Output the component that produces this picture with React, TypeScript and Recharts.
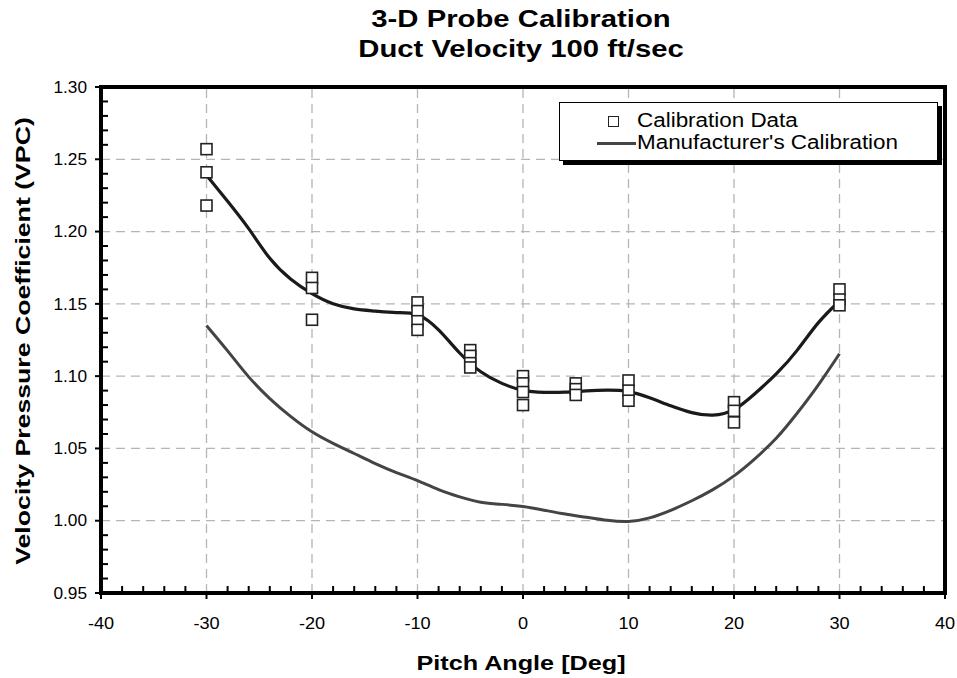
import React from "react";
import {
  ComposedChart,
  Line,
  Scatter,
  XAxis,
  YAxis,
  ReferenceLine,
} from "recharts";

// ---- data ----
const calX = [-30, -30, -30, -20, -20, -20, -10, -10, -10, -10, -5, -5, -5, -5, 0, 0, 0, 0, 5, 5, 5, 10, 10, 10, 20, 20, 20, 30, 30, 30];
const calY = [1.257, 1.241, 1.218, 1.168, 1.161, 1.139, 1.151, 1.145, 1.138, 1.132, 1.118, 1.114, 1.109, 1.106, 1.1, 1.095, 1.089, 1.08, 1.095, 1.091, 1.087, 1.097, 1.09, 1.083, 1.082, 1.076, 1.068, 1.16, 1.153, 1.149];

const curveX = [-30, -28, -26, -24, -22, -20, -18, -16, -14, -12, -10, -8, -6, -4, -2, 0, 2, 4, 6, 8, 10, 12, 14, 16, 18, 20, 22, 24, 26, 28, 30];
const fitY = [1.239, 1.221, 1.202, 1.1815, 1.167, 1.157, 1.15, 1.1465, 1.145, 1.144, 1.1425, 1.132, 1.116, 1.103, 1.095, 1.0902, 1.0888, 1.0889, 1.0898, 1.0903, 1.0893, 1.085, 1.0795, 1.0748, 1.073, 1.0768, 1.088, 1.1015, 1.118, 1.137, 1.152];
const mfrY = [1.135, 1.1175, 1.0995, 1.0845, 1.072, 1.0615, 1.0535, 1.0465, 1.0395, 1.0333, 1.0277, 1.0215, 1.0165, 1.0128, 1.0113, 1.0098, 1.0073, 1.0046, 1.0024, 1.0003, 0.9995, 1.002, 1.0072, 1.0138, 1.0215, 1.031, 1.043, 1.057, 1.0745, 1.094, 1.1155];

const xMajorTicks = [-40, -30, -20, -10, 0, 10, 20, 30, 40];
const xMinorTicks = [-38, -36, -34, -32, -28, -26, -24, -22, -18, -16, -14, -12, -8, -6, -4, -2, 2, 4, 6, 8, 12, 14, 16, 18, 22, 24, 26, 28, 32, 34, 36, 38];
const yMajorTicks = [0.95, 1.0, 1.05, 1.1, 1.15, 1.2, 1.25, 1.3];
const yMinorTicks = [
  0.96, 0.97, 0.98, 0.99, 1.01, 1.02, 1.03, 1.04, 1.06, 1.07, 1.08, 1.09, 1.11, 1.12, 1.13, 1.14,
  1.16, 1.17, 1.18, 1.19, 1.21, 1.22, 1.23, 1.24, 1.26, 1.27, 1.28, 1.29,
];
const xDomain = [-40, 40];
const yDomain = [0.95, 1.3];

const titleLines = ["3-D Probe Calibration", "Duct Velocity 100 ft/sec"];
const xLabel = "Pitch Angle [Deg]";
const yLabel = "Velocity Pressure Coefficient (VPC)";
const legendNames = ["Calibration Data", "Manufacturer's Calibration"];

const calData = calX.map((x, i) => ({ x, y: calY[i] }));
const fitData = curveX.map((x, i) => ({ x, y: fitY[i] }));
const mfrData = curveX.map((x, i) => ({ x, y: mfrY[i] }));
const xAllTicks = [...xMajorTicks, ...xMinorTicks].sort((a, b) => a - b);
const yAllTicks = [...yMajorTicks, ...yMinorTicks].sort((a, b) => a - b);
const xInnerGrid = xMajorTicks.filter((v) => v !== xDomain[0] && v !== xDomain[1]);
const yInnerGrid = yMajorTicks.filter((v) => v !== yDomain[0] && v !== yDomain[1]);

const FONT = "'Liberation Sans', Arial, Helvetica, sans-serif";
const GRID = "#b5b5b5";
const W = 957;
const H = 678;
const M = { top: 87, right: 12, bottom: 45, left: 0 };
const X_AXIS_H = 40;
const Y_AXIS_W = 101;

const isXMajor = (v: number) => xMajorTicks.includes(v);
const isYMajor = (v: number) => yMajorTicks.some((m) => Math.abs(m - v) < 1e-9);

const XTick = (props: any) => {
  const { x, y, payload } = props;
  const v = Number(payload.value);
  if (!isXMajor(v)) {
    return <line x1={x} x2={x} y1={y} y2={y - 7} stroke="#000" strokeWidth={2} />;
  }
  return (
    <g>
      <line x1={x} x2={x} y1={y} y2={y + 6} stroke="#000" strokeWidth={2} />
      <text
        transform={`translate(${x},${y + 24}) scale(1.1,1)`}
        x={0}
        y={0}
        dy="0.71em"
        textAnchor="middle"
        fontFamily={FONT}
        fontSize={16.5}
        fill="#000"
      >
        {v}
      </text>
    </g>
  );
};

const YTick = (props: any) => {
  const { x, y, payload } = props;
  const v = Number(payload.value);
  if (!isYMajor(v)) {
    return <line x1={x} x2={x + 7} y1={y} y2={y} stroke="#000" strokeWidth={2} />;
  }
  return (
    <g>
      <line x1={x - 6} x2={x} y1={y} y2={y} stroke="#000" strokeWidth={2} />
      <text
        transform={`translate(${x - 14},${y}) scale(1.08,1)`}
        x={0}
        y={0}
        dy="0.36em"
        textAnchor="end"
        fontFamily={FONT}
        fontSize={16}
        fill="#000"
      >
        {v.toFixed(2)}
      </text>
    </g>
  );
};

const SquareShape = (props: any) => {
  const { cx, cy } = props;
  if (cx == null || cy == null) return null;
  const s = 11;
  return (
    <rect
      x={cx - s / 2}
      y={cy - s / 2}
      width={s}
      height={s}
      fill="#fff"
      stroke="#222"
      strokeWidth={1.6}
    />
  );
};

export default function App() {
  const plotLeft = M.left + Y_AXIS_W;
  const plotTop = M.top;
  const plotW = W - M.right - plotLeft;
  const plotH = H - M.bottom - X_AXIS_H - plotTop;
  return (
    <div
      style={{
        position: "relative",
        width: W,
        height: H,
        background: "#fff",
        fontFamily: FONT,
      }}
    >
      <style>{`body{margin:0;}`}</style>
      <ComposedChart width={W} height={H} margin={M}>
        {xInnerGrid.map((v) => (
          <ReferenceLine
            key={`gx${v}`}
            x={v}
            stroke={GRID}
            strokeWidth={1.3}
            strokeDasharray="9 6"
          />
        ))}
        {yInnerGrid.map((v) => (
          <ReferenceLine
            key={`gy${v}`}
            y={v}
            stroke={GRID}
            strokeWidth={1.3}
            strokeDasharray="9 6"
          />
        ))}
        <XAxis
          dataKey="x"
          type="number"
          domain={xDomain}
          ticks={xAllTicks}
          interval={0}
          height={X_AXIS_H}
          tickSize={0}
          tickMargin={0}
          axisLine={false}
          tickLine={false}
          tick={<XTick />}
        />
        <YAxis
          dataKey="y"
          type="number"
          domain={yDomain}
          ticks={yAllTicks}
          interval={0}
          width={Y_AXIS_W}
          tickSize={0}
          tickMargin={0}
          axisLine={false}
          tickLine={false}
          tick={<YTick />}
        />
        <Line
          data={mfrData}
          dataKey="y"
          type="natural"
          stroke="#444"
          strokeWidth={3}
          dot={false}
          activeDot={false}
          isAnimationActive={false}
        />
        <Line
          data={fitData}
          dataKey="y"
          type="natural"
          stroke="#1a1a1a"
          strokeWidth={3.2}
          dot={false}
          activeDot={false}
          isAnimationActive={false}
        />
        <Scatter
          data={calData}
          dataKey="y"
          shape={<SquareShape />}
          isAnimationActive={false}
        />
      </ComposedChart>

      {/* Plot frame */}
      <div
        style={{
          position: "absolute",
          left: plotLeft - 2,
          top: plotTop - 2,
          width: plotW + 4,
          height: plotH + 4,
          boxSizing: "border-box",
          border: "4px solid #000",
          pointerEvents: "none",
        }}
      />

      {/* Title */}
      {titleLines.map((t, i) => (
        <div
          key={t}
          style={{
            position: "absolute",
            left: 521,
            top: 19 + i * 30,
            transform: "translate(-50%,-50%) scale(1.22,1)",
            fontWeight: "bold",
            fontSize: 24,
            whiteSpace: "nowrap",
            lineHeight: 1,
            color: "#000",
          }}
        >
          {t}
        </div>
      ))}

      {/* X label */}
      <div
        style={{
          position: "absolute",
          left: 521,
          top: 662,
          transform: "translate(-50%,-50%) scale(1.2,1)",
          fontWeight: "bold",
          fontSize: 21,
          whiteSpace: "nowrap",
          lineHeight: 1,
        }}
      >
        {xLabel}
      </div>

      {/* Y label */}
      <div
        style={{
          position: "absolute",
          left: 22,
          top: 341,
          transform: "translate(-50%,-50%) rotate(-90deg) scale(1.27,1)",
          fontWeight: "bold",
          fontSize: 21,
          whiteSpace: "nowrap",
          lineHeight: 1,
        }}
      >
        {yLabel}
      </div>

      {/* Legend */}
      <div
        style={{
          position: "absolute",
          left: 559,
          top: 102,
          width: 377,
          height: 57,
          border: "1px solid #000",
          boxShadow: "4px 4px 0 #000",
          background: "#fff",
        }}
      >
        <div
          style={{
            position: "absolute",
            left: 48,
            top: 13,
            width: 11,
            height: 11,
            boxSizing: "border-box",
            border: "1.5px solid #222",
            background: "#fff",
          }}
        />
        <div
          style={{
            position: "absolute",
            left: 37,
            top: 39,
            width: 39,
            height: 3,
            background: "#444",
          }}
        />
        {legendNames.map((n, i) => (
          <div
            key={n}
            style={{
              position: "absolute",
              left: 77,
              top: 18 + i * 22,
              transform: "translateY(-50%) scale(1.15,1)",
              transformOrigin: "left center",
              fontSize: 19.5,
              lineHeight: 1,
              whiteSpace: "nowrap",
            }}
          >
            {n}
          </div>
        ))}
      </div>
    </div>
  );
}
